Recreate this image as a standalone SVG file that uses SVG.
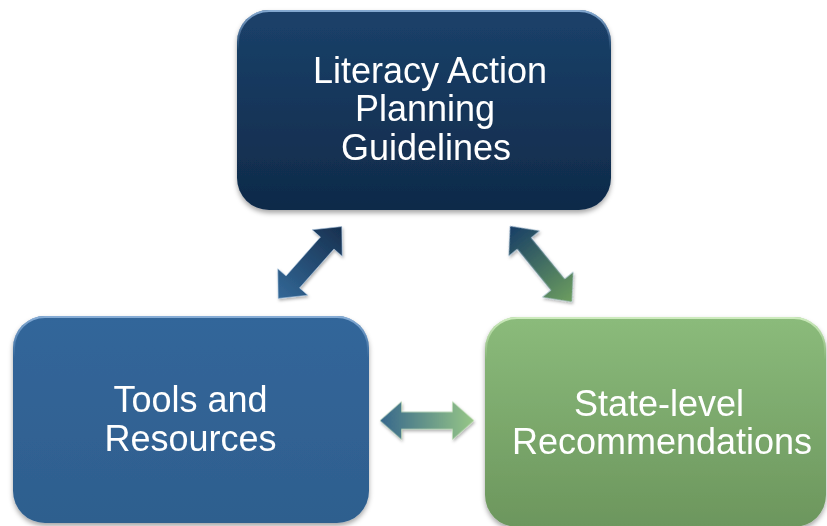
<svg xmlns="http://www.w3.org/2000/svg" width="827" height="526" viewBox="0 0 827 526">
  <style>
    .lbl { font-family: "Liberation Sans", Arial, sans-serif; font-size: 36px; fill: #ffffff; text-anchor: middle; }
    .edge { fill: none; stroke-width: 2; }
  </style>
  <defs>
    <filter id="shadow" x="-10%" y="-10%" width="120%" height="125%">
      <feDropShadow dx="0" dy="3" stdDeviation="2.5" flood-color="#000000" flood-opacity="0.35"/>
    </filter>
    <filter id="ashadow" x="-20%" y="-40%" width="140%" height="180%">
      <feDropShadow dx="1" dy="2" stdDeviation="1.5" flood-color="#000000" flood-opacity="0.3"/>
    </filter>
    <linearGradient id="gTop" x1="0" y1="0" x2="0" y2="1">
      <stop offset="0" stop-color="#1b416a"/>
      <stop offset="1" stop-color="#0f2a49"/>
    </linearGradient>
    <linearGradient id="gLeft" x1="0" y1="0" x2="0" y2="1">
      <stop offset="0" stop-color="#33669a"/>
      <stop offset="1" stop-color="#2e5f8e"/>
    </linearGradient>
    <linearGradient id="gRight" x1="0" y1="0" x2="0" y2="1">
      <stop offset="0" stop-color="#8bbb7b"/>
      <stop offset="1" stop-color="#6c965d"/>
    </linearGradient>
    <linearGradient id="hlTop" x1="0" y1="0" x2="0" y2="1">
      <stop offset="0" stop-color="#8fb4dc" stop-opacity="0.9"/>
      <stop offset="0.2" stop-color="#8fb4dc" stop-opacity="0"/>
    </linearGradient>
    <linearGradient id="hlGreen" x1="0" y1="0" x2="0" y2="1">
      <stop offset="0" stop-color="#d4f0c4" stop-opacity="0.9"/>
      <stop offset="0.2" stop-color="#d4f0c4" stop-opacity="0"/>
    </linearGradient>
    <linearGradient id="aLeft" x1="0" y1="0" x2="1" y2="0">
      <stop offset="0" stop-color="#336897"/>
      <stop offset="1" stop-color="#17304f"/>
    </linearGradient>
    <linearGradient id="aRight" x1="0" y1="0" x2="1" y2="0">
      <stop offset="0" stop-color="#173d66"/>
      <stop offset="1" stop-color="#6d9e5f"/>
    </linearGradient>
    <linearGradient id="aMid" x1="0" y1="0" x2="1" y2="0">
      <stop offset="0" stop-color="#37678c"/>
      <stop offset="1" stop-color="#97c787"/>
    </linearGradient>
    <path id="dblArrow" d="M-48,0 L-26,-20 L-26,-9 L26,-9 L26,-20 L48,0 L26,20 L26,9 L-26,9 L-26,20 Z"/>
  </defs>

  <rect width="827" height="526" fill="#ffffff"/>

  <g id="connectors">
    <g filter="url(#ashadow)">
      <use href="#dblArrow" fill="url(#aLeft)" stroke="#a9c4de" stroke-width="0.8" stroke-opacity="0.7" transform="translate(310,262.5) rotate(-48.5)"/>
      <use href="#dblArrow" fill="url(#aRight)" stroke="#b9d0e6" stroke-width="0.8" stroke-opacity="0.7" transform="translate(541,264) rotate(50.8) scale(1.02,1)"/>
      <use href="#dblArrow" fill="url(#aMid)" stroke="#c6e4b8" stroke-width="0.8" stroke-opacity="0.7" transform="translate(427,420.5) scale(0.98,0.95)"/>
    </g>
  </g>

  <g id="node-top">
    <rect x="237" y="10" width="374" height="200" rx="32" fill="url(#gTop)" filter="url(#shadow)"/>
    <rect x="238" y="11" width="372" height="198" rx="31" class="edge" stroke="url(#hlTop)"/>
    <text class="lbl" x="430" y="83">Literacy Action</text>
    <text class="lbl" x="425" y="121">Planning</text>
    <text class="lbl" x="426" y="160">Guidelines</text>
  </g>

  <g id="node-left">
    <rect x="13" y="316" width="356" height="207" rx="32" fill="url(#gLeft)" filter="url(#shadow)"/>
    <rect x="14" y="317" width="354" height="205" rx="31" class="edge" stroke="url(#hlTop)"/>
    <text class="lbl" x="190.5" y="412">Tools and</text>
    <text class="lbl" x="190.5" y="451">Resources</text>
  </g>

  <g id="node-right">
    <rect x="485" y="317" width="341" height="210" rx="32" fill="url(#gRight)" filter="url(#shadow)"/>
    <rect x="486" y="318" width="339" height="208" rx="31" class="edge" stroke="url(#hlGreen)"/>
    <text class="lbl" x="659" y="416">State-level</text>
    <text class="lbl" x="662" y="454">Recommendations</text>
  </g>
</svg>
